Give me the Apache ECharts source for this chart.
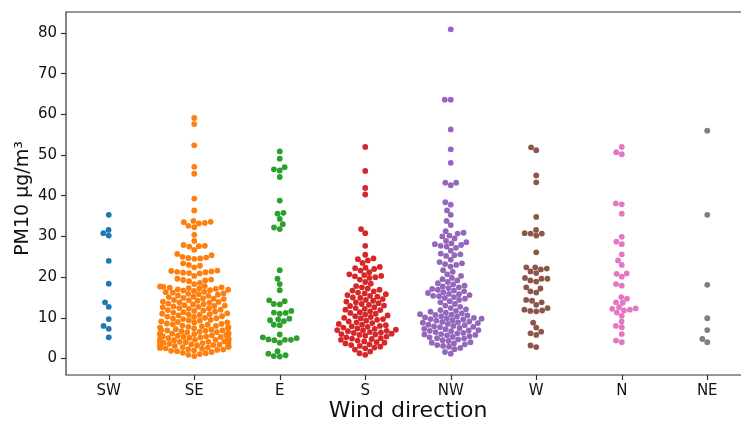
<!DOCTYPE html>
<html>
<head>
<meta charset="utf-8">
<script src="https://cdn.jsdelivr.net/npm/echarts@6/dist/echarts.min.js"></script>
<style>html,body{margin:0;padding:0;background:#fff;}#main{width:741px;height:423px;}</style>
</head>
<body>
<div id="main"></div>
<script>
// ---- data (PM10 µg/m³ by wind direction) ----
const categories = ['SW', 'SE', 'E', 'S', 'NW', 'W', 'N', 'NE'];
const yTicks = [0, 10, 20, 30, 40, 50, 60, 70, 80];
const colors = ['#1f77b4', '#ff7f0e', '#2ca02c', '#d62728', '#9467bd', '#8c564b', '#e377c2', '#7f7f7f'];

const valuesSW = [35.3, 31.6, 30.8, 30.2, 24.0, 18.4, 13.8, 12.7, 9.7, 8.0, 7.3, 5.2];
const valuesSE = [
  0.6, 0.9,
  1.1, 1.3, 1.4, 1.6, 1.8, 1.9,
  2.0, 2.1, 2.2, 2.3, 2.4, 2.5, 2.6, 2.7, 2.8, 2.9, 2.9,
  3.0, 3.1, 3.1, 3.2, 3.3, 3.4, 3.5, 3.6, 3.6, 3.7, 3.8, 3.9, 3.9,
  4.0, 4.1, 4.1, 4.2, 4.3, 4.4, 4.5, 4.6, 4.6, 4.7, 4.8, 4.9, 4.9,
  5.0, 5.1, 5.2, 5.3, 5.3, 5.4, 5.5, 5.6, 5.7, 5.8, 5.9, 5.9,
  6.0, 6.1, 6.2, 6.3, 6.4, 6.5, 6.6, 6.7, 6.8, 6.9, 6.9,
  7.0, 7.1, 7.2, 7.4, 7.5, 7.6, 7.7, 7.8, 7.9,
  8.0, 8.1, 8.3, 8.4, 8.5, 8.6, 8.8, 8.9,
  9.0, 9.1, 9.3, 9.4, 9.5, 9.7, 9.8, 9.9,
  10.0, 10.2, 10.3, 10.4, 10.6, 10.7, 10.8, 10.9,
  11.0, 11.1, 11.3, 11.4, 11.5, 11.7, 11.8, 11.9,
  12.0, 12.2, 12.3, 12.4, 12.6, 12.7, 12.8, 12.9,
  13.0, 13.1, 13.3, 13.4, 13.5, 13.7, 13.8, 13.9,
  14.0, 14.2, 14.3, 14.4, 14.6, 14.7, 14.8, 14.9,
  15.1, 15.2, 15.4, 15.5, 15.7, 15.8, 15.9,
  16.0, 16.2, 16.3, 16.4, 16.6, 16.7, 16.8, 16.9,
  17.0, 17.1, 17.2, 17.3, 17.4, 17.5, 17.6, 17.7, 17.8,
  18.3, 18.6,
  19.0, 19.2, 19.3, 19.4, 19.6, 20.3,
  20.9, 21.0, 21.1, 21.2, 21.3, 21.4, 21.5, 21.6,
  22.4, 22.8, 23.0, 23.4,
  24.5, 24.6, 24.7, 24.8, 25.0, 25.4, 25.7, 26.7,
  27.5, 27.6, 27.7, 27.9, 28.9, 30.4,
  32.3, 32.6, 33.2, 33.3, 33.5, 33.6, 33.8,
  36.4, 39.3, 45.4, 47.1, 52.4, 57.6, 59.1
];
const valuesE = [50.9, 49.1, 47.0, 46.5, 46.2, 44.6, 38.8, 35.8, 35.6, 34.3, 33.0, 32.2, 31.8,
  21.7, 19.6, 18.3, 16.8, 14.3, 14.1, 13.4, 13.3, 11.7, 11.3, 11.2, 11.0, 9.8, 9.6, 9.4, 9.2,
  8.3, 8.2, 5.9, 5.2, 5.0, 4.7, 4.6, 4.6, 4.5, 3.9, 1.8, 1.2, 0.8, 0.6, 0.5];
const valuesS = [
  0.9, 1.3, 1.7, 2.2, 2.5, 2.7, 2.9, 3.1, 3.3, 3.5, 3.7, 3.9,
  4.0, 4.2, 4.4, 4.6, 4.8, 4.9, 5.0, 5.2, 5.4, 5.6, 5.8, 5.9,
  6.0, 6.1, 6.3, 6.4, 6.5, 6.7, 6.8, 6.9, 7.0, 7.1, 7.3, 7.4, 7.6, 7.8, 7.9,
  8.0, 8.2, 8.3, 8.5, 8.7, 8.9, 9.1, 9.3, 9.5, 9.7, 9.9,
  10.0, 10.2, 10.4, 10.6, 10.8, 11.0, 11.2, 11.4, 11.6, 11.9,
  12.0, 12.2, 12.4, 12.6, 12.9, 13.0, 13.2, 13.4, 13.6, 13.8,
  14.0, 14.2, 14.4, 14.6, 14.9, 15.0, 15.2, 15.4, 15.6, 15.8,
  16.0, 16.2, 16.5, 16.7, 16.9, 17.2, 17.5, 17.8, 18.4, 18.8,
  19.4, 19.8, 20.0, 20.2, 20.3, 20.5, 20.7, 21.2, 21.6,
  22.0, 22.2, 22.3, 22.5, 23.5, 24.1, 24.4, 24.6, 25.5, 27.7,
  30.8, 31.8, 40.3, 41.9, 46.1, 52.0
];
const valuesNW = [
  1.2, 1.6, 2.3, 2.6, 2.9, 3.1, 3.3, 3.5, 3.7, 3.9,
  4.0, 4.3, 4.5, 4.7, 4.9,
  5.0, 5.2, 5.3, 5.5, 5.7, 5.8, 5.9,
  6.0, 6.2, 6.3, 6.5, 6.7, 6.8, 6.9,
  7.0, 7.2, 7.3, 7.5, 7.7, 7.8, 7.9,
  8.0, 8.2, 8.3, 8.5, 8.7, 8.8, 8.9,
  9.0, 9.1, 9.3, 9.4, 9.6, 9.7, 9.8, 9.9,
  10.0, 10.1, 10.3, 10.4, 10.6, 10.7, 10.8, 10.9,
  11.1, 11.3, 11.5, 11.7, 11.9,
  12.1, 12.4, 12.7, 13.0, 13.4, 13.8,
  14.1, 14.4, 14.7, 14.9,
  15.1, 15.3, 15.4, 15.6, 15.8, 15.9,
  16.1, 16.3, 16.5, 16.7, 16.9,
  17.1, 17.3, 17.5, 17.7, 17.9,
  18.2, 18.5, 18.8, 19.2, 19.5, 19.8,
  20.3, 20.7, 21.3, 21.7, 22.6,
  23.0, 23.2, 23.4, 23.7, 24.3,
  25.2, 25.4, 25.6, 25.8, 26.5,
  27.2, 27.5, 27.7, 27.9, 28.1, 28.3, 28.6, 28.9, 29.5,
  30.0, 30.2, 30.7, 30.9, 31.3, 32.8, 33.8, 35.3, 36.4, 37.8, 38.4,
  42.6, 43.2, 43.2, 48.1, 51.4, 56.3, 63.6, 63.6, 80.9
];
const valuesW = [51.9, 51.2, 45.0, 43.3, 34.8, 31.6, 30.8, 30.7, 30.7, 30.2, 26.1,
  22.4, 22.4, 22.1, 21.9, 21.4, 21.0, 19.8, 19.6, 19.6, 19.2, 18.9, 17.5, 17.2, 16.5, 16.2,
  14.4, 14.2, 13.8, 13.2, 12.4, 12.0, 11.8, 11.7, 11.6, 8.8, 7.6, 6.6, 6.2, 5.8, 3.2, 2.8];
const valuesN = [52.0, 50.7, 50.2, 38.1, 37.9, 35.6, 29.9, 28.7, 28.1, 25.6, 24.1, 23.0,
  20.9, 20.8, 20.1, 18.3, 17.9, 15.1, 14.7, 13.8, 13.7, 12.6, 12.3, 12.2, 12.0, 11.8, 11.3,
  10.5, 9.1, 8.0, 7.7, 6.0, 4.4, 4.0];
const valuesNE = [56.0, 35.3, 18.1, 9.9, 7.0, 4.8, 4.0];

const groups = [valuesSW, valuesSE, valuesE, valuesS, valuesNW, valuesW, valuesN, valuesNE];

// ---- chart ----
const FONT = 'DejaVu Sans';
const DOT = 5.8;
const chart = echarts.init(document.getElementById('main'), null, {renderer: 'canvas'});

const baseOption = {
  animation: false,
  backgroundColor: '#ffffff',
  grid: {left: 66, right: -9, top: 12, bottom: 48, containLabel: false, outerBoundsMode: 'none',
    show: true, borderColor: '#333', borderWidth: 1.2},
  xAxis: {
    type: 'value', min: -0.5, max: 7.5,
    axisLine: {show: false, onZero: false},
    axisTick: {show: true, length: 5, customValues: categories.map((c, i) => i), lineStyle: {color: '#333', width: 1.2}},
    axisLabel: {customValues: categories.map((c, i) => i), formatter: v => categories[Math.round(v)] || '',
      fontSize: 15, color: '#111', margin: 9, fontFamily: FONT},
    splitLine: {show: false},
    name: 'Wind direction', nameLocation: 'middle', nameGap: 25, nameMoveOverlap: false,
    nameTextStyle: {fontSize: 22, color: '#111', fontFamily: FONT}
  },
  yAxis: {
    type: 'value', min: -4.05, max: 85.15,
    axisLine: {show: false, onZero: false},
    axisTick: {show: true, length: 5, customValues: yTicks, lineStyle: {color: '#333', width: 1.2}},
    axisLabel: {customValues: yTicks, fontSize: 15, color: '#111', margin: 9, fontFamily: FONT},
    splitLine: {show: false},
    name: 'PM10 µg/m³', nameLocation: 'middle', nameGap: 33, nameRotate: 90, nameMoveOverlap: false,
    nameTextStyle: {fontSize: 19, color: '#111', fontFamily: FONT, padding: [0, 10, 0, 0]}
  },
  series: categories.map((c, i) => ({type: 'scatter', name: c, data: []}))
};
chart.setOption(baseOption);

// Beeswarm layout (seaborn-style), computed in pixel space through the axes' scales
const p0 = chart.convertToPixel({gridIndex: 0}, [0, 0]);
const p1 = chart.convertToPixel({gridIndex: 0}, [1, 10]);
const pxPerCat = p1[0] - p0[0];
const pxPerUnit = (p0[1] - p1[1]) / 10;
const R = 2.85;

function swarm(vals, center) {
  const pts = vals.slice().sort((a, b) => a - b).map(v => ({v: v, y: v * pxPerUnit, x: 0}));
  const placed = [];
  for (let i = 0; i < pts.length; i++) {
    const p = pts[i];
    const nb = [];
    for (let j = placed.length - 1; j >= 0; j--) {
      if (Math.abs(p.y - placed[j].y) < 2 * R) nb.push(placed[j]); else break;
    }
    nb.reverse();
    const cands = [0];
    let leftFirst = true;
    for (const q of nb) {
      const dy = p.y - q.y;
      const dx = Math.sqrt(Math.max(4 * R * R - dy * dy, 0)) * 1.05;
      if (leftFirst) { cands.push(q.x - dx, q.x + dx); } else { cands.push(q.x + dx, q.x - dx); }
      leftFirst = !leftFirst;
    }
    const order = cands.map((c, k) => [Math.abs(c), k, c]).sort((a, b) => a[0] - b[0] || a[1] - b[1]);
    let chosen = order[0][2];
    for (const o of order) {
      const cx = o[2];
      let ok = true;
      for (const q of nb) {
        const dx = cx - q.x, dy = p.y - q.y;
        if (dx * dx + dy * dy - 4 * R * R < -1e-6) { ok = false; break; }
      }
      if (ok) { chosen = cx; break; }
    }
    p.x = chosen;
    placed.push(p);
  }
  const half = 0.4 * pxPerCat;
  return placed.map(p => [center + Math.max(-half, Math.min(half, p.x)) / pxPerCat, p.v]);
}

chart.setOption({
  series: groups.map((vals, i) => ({
    type: 'scatter',
    name: categories[i],
    symbolSize: DOT,
    itemStyle: {color: colors[i], opacity: 1},
    data: swarm(vals, i)
  }))
});
</script>
</body>
</html>
